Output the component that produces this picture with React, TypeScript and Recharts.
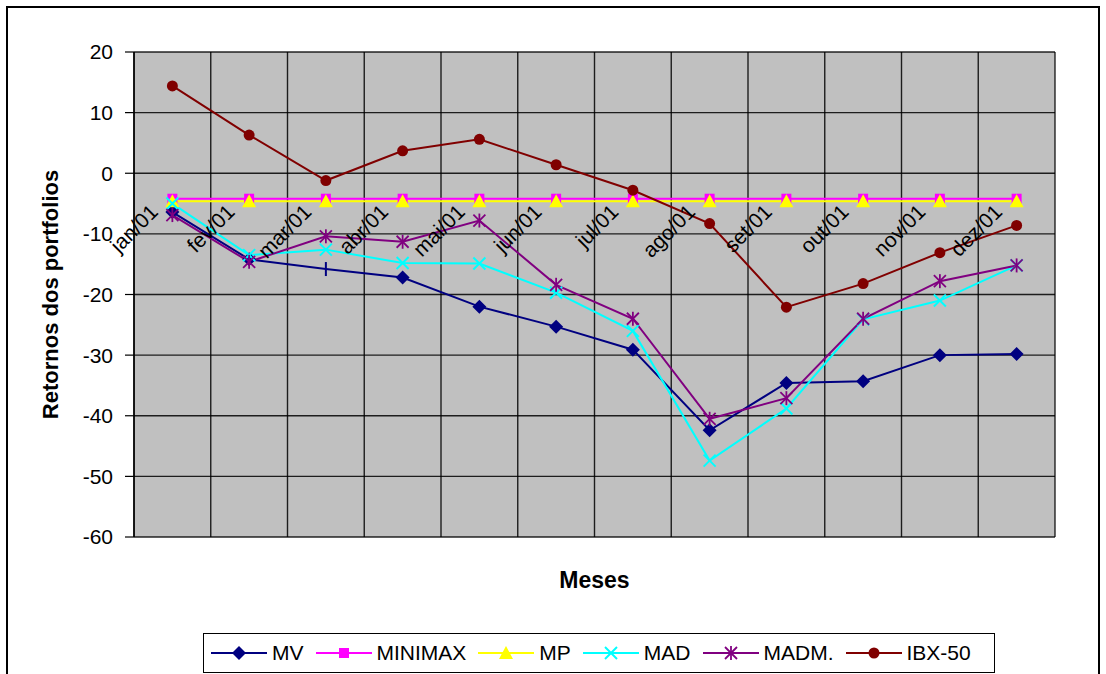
import React from 'react';
import { LineChart, Line, XAxis, YAxis, CartesianGrid } from 'recharts';

const months = ['jan/01', 'fev/01', 'mar/01', 'abr/01', 'mai/01', 'jun/01', 'jul/01', 'ago/01', 'set/01', 'out/01', 'nov/01', 'dez/01'];
const mv = [-6.4, -14.2, -15.8, -17.2, -22.0, -25.3, -29.1, -42.4, -34.6, -34.3, -30.0, -29.8];
const minimax = [-4.2, -4.2, -4.2, -4.2, -4.2, -4.2, -4.2, -4.2, -4.2, -4.2, -4.2, -4.2];
const mp = [-4.6, -4.6, -4.6, -4.6, -4.6, -4.6, -4.6, -4.6, -4.6, -4.6, -4.6, -4.6];
const mad = [-5.0, -13.5, -12.6, -14.8, -14.9, -19.7, -26.0, -47.4, -38.8, -24.1, -21.0, -15.2];
const madm = [-6.9, -14.6, -10.4, -11.3, -7.8, -18.4, -24.0, -40.5, -37.1, -24.0, -17.8, -15.2];
const ibx = [14.4, 6.3, -1.2, 3.7, 5.6, 1.4, -2.8, -8.3, -22.1, -18.2, -13.1, -8.6];
const yTicks = [-60, -50, -40, -30, -20, -10, 0, 10, 20];

const FONT = '"Liberation Sans", Arial, sans-serif';
const W = 1106;
const H = 674;
const MARGIN = { top: 52, right: 51, bottom: 107, left: 74 };
const Y_AXIS_W = 60;
const X_AXIS_H = 30;
const Y_MIN = -60;
const Y_MAX = 20;
const PLOT_H = H - MARGIN.top - MARGIN.bottom - X_AXIS_H;
// month labels sit under the zero line, not at the bottom of the plot
const ZERO_RISE = (PLOT_H * (0 - Y_MIN)) / (Y_MAX - Y_MIN);

type Shape = 'diamond' | 'square' | 'triangle' | 'cross' | 'star' | 'circle' | 'bar';

const series: { key: string; name: string; color: string; shape: Shape }[] = [
  { key: 'mv', name: 'MV', color: '#000080', shape: 'diamond' },
  { key: 'minimax', name: 'MINIMAX', color: '#FF00FF', shape: 'square' },
  { key: 'mp', name: 'MP', color: '#FFFF00', shape: 'triangle' },
  { key: 'mad', name: 'MAD', color: '#00FFFF', shape: 'cross' },
  { key: 'madm', name: 'MADM.', color: '#800080', shape: 'star' },
  { key: 'ibx', name: 'IBX-50', color: '#800000', shape: 'circle' },
];

const data = months.map((m, i) => ({
  month: m,
  mv: mv[i],
  minimax: minimax[i],
  mp: mp[i],
  mad: mad[i],
  madm: madm[i],
  ibx: ibx[i],
}));

const Marker = ({ cx, cy, color, shape }: { cx: number; cy: number; color: string; shape: Shape }) => {
  switch (shape) {
    case 'diamond':
      return <polygon points={`${cx},${cy - 7} ${cx + 7},${cy} ${cx},${cy + 7} ${cx - 7},${cy}`} fill={color} />;
    case 'square':
      return <rect x={cx - 5} y={cy - 5} width={10} height={10} fill={color} />;
    case 'triangle':
      return <polygon points={`${cx},${cy - 7} ${cx + 7},${cy + 6} ${cx - 7},${cy + 6}`} fill={color} />;
    case 'cross':
      return (
        <g stroke={color} strokeWidth={2}>
          <line x1={cx - 6} y1={cy - 6} x2={cx + 6} y2={cy + 6} />
          <line x1={cx - 6} y1={cy + 6} x2={cx + 6} y2={cy - 6} />
        </g>
      );
    case 'star':
      return (
        <g stroke={color} strokeWidth={1.8}>
          <line x1={cx - 6} y1={cy - 6} x2={cx + 6} y2={cy + 6} />
          <line x1={cx - 6} y1={cy + 6} x2={cx + 6} y2={cy - 6} />
          <line x1={cx} y1={cy - 7} x2={cx} y2={cy + 7} />
        </g>
      );
    case 'circle':
      return <circle cx={cx} cy={cy} r={5.5} fill={color} />;
    case 'bar':
      return <line x1={cx} y1={cy - 7} x2={cx} y2={cy + 7} stroke={color} strokeWidth={2} />;
  }
  return null;
};

const makeDot = (color: string, shape: Shape, prefix: string) => (props: any) => {
  const { cx, cy, index } = props;
  // the March point of MV is drawn as a plain vertical tick
  const s: Shape = prefix === 'mv' && index === 2 ? 'bar' : shape;
  return <Marker key={`${prefix}-${index}`} cx={cx} cy={cy} color={color} shape={s} />;
};

const MonthTick = (props: any) => {
  const { x, y, payload } = props;
  const tx = x - 13;
  const ty = y - ZERO_RISE + 40;
  return (
    <text x={tx} y={ty} transform={`rotate(-45 ${tx} ${ty})`} textAnchor="end" fontSize={21} fontFamily={FONT} fill="#000">
      {payload.value}
    </text>
  );
};

const YTitle = (props: any) => {
  const { viewBox } = props;
  const x = viewBox.x - 24;
  const y = viewBox.y + viewBox.height / 2;
  return (
    <text x={x} y={y} transform={`rotate(-90 ${x} ${y})`} textAnchor="middle" dominantBaseline="central" fontSize={22} fontWeight="bold" fontFamily={FONT} fill="#000">
      Retornos dos portfolios
    </text>
  );
};

const LegendBox = () => (
  <div
    style={{
      position: 'absolute',
      left: 203,
      top: 633,
      width: 792,
      height: 40,
      boxSizing: 'border-box',
      border: '1.5px solid #000',
      background: '#fff',
      display: 'flex',
      alignItems: 'center',
      paddingLeft: 7,
      fontFamily: FONT,
      fontSize: 21,
    }}
  >
    {series.map((s) => (
      <div key={s.key} style={{ display: 'flex', alignItems: 'center', marginRight: 12 }}>
        <svg width={56} height={20}>
          <line x1={0} y1={10} x2={56} y2={10} stroke={s.color} strokeWidth={2} />
          <Marker cx={28} cy={10} color={s.color} shape={s.shape} />
        </svg>
        <span style={{ marginLeft: 5, color: '#000' }}>{s.name}</span>
      </div>
    ))}
  </div>
);

export default function App() {
  return (
    <div style={{ position: 'absolute', left: 0, top: 0, width: W, height: H, overflow: 'hidden', background: '#fff' }}>
      <div
        style={{
          position: 'absolute',
          left: 6,
          top: 6,
          width: 1094,
          height: 720,
          boxSizing: 'border-box',
          border: '2px solid #000',
        }}
      />
      <div style={{ position: 'absolute', left: 0, top: 0 }}>
        <LineChart width={W} height={H} data={data} margin={MARGIN}>
          <CartesianGrid
            fill="#C0C0C0"
            stroke="#000"
            strokeWidth={1.4}
            strokeOpacity={0.85}
            verticalCoordinatesGenerator={(p: any) =>
              months.concat(['']).map((_, i) => p.offset.left + (i * p.offset.width) / months.length)
            }
          />
          <XAxis
            dataKey="month"
            scale="band"
            height={X_AXIS_H}
            axisLine={false}
            tickLine={false}
            tickSize={0}
            tickMargin={0}
            interval={0}
            tick={<MonthTick />}
            label={{ value: 'Meses', position: 'bottom', offset: 5, fontSize: 23, fontWeight: 'bold', fontFamily: FONT, fill: '#000' }}
          />
          <YAxis
            width={Y_AXIS_W}
            domain={[Y_MIN, Y_MAX]}
            ticks={yTicks}
            interval={0}
            tickSize={9}
            tickMargin={12}
            axisLine={{ stroke: '#000', strokeWidth: 1.5 }}
            tickLine={{ stroke: '#000', strokeWidth: 1.2 }}
            tick={{ fontSize: 21, fontFamily: FONT, fill: '#000' }}
            label={<YTitle />}
          />
          {series.map((s) => (
            <Line
              key={s.key}
              dataKey={s.key}
              name={s.name}
              type="linear"
              stroke={s.color}
              strokeWidth={2}
              dot={makeDot(s.color, s.shape, s.key)}
              activeDot={false}
              isAnimationActive={false}
            />
          ))}
        </LineChart>
      </div>
      <LegendBox />
    </div>
  );
}
